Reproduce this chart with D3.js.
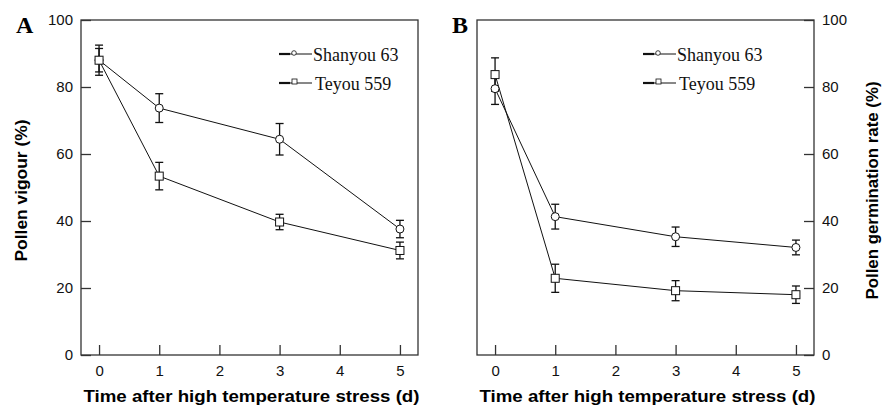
<!DOCTYPE html>
<html>
<head>
<meta charset="utf-8">
<script src="https://cdn.jsdelivr.net/npm/d3@7"></script>
<style>
  body { margin: 0; background: #fff; }
  svg { display: block; }
</style>
</head>
<body>
<script>
// values
const days = [0, 1, 3, 5];
const xTicks = [0, 1, 2, 3, 4, 5];
const yTicks = [0, 20, 40, 60, 80, 100];
const seriesNames = ["Shanyou 63", "Teyou 559"];

const vigourShanyou = [88, 73.7, 64.4, 37.6];
const vigourShanyouErr = [4.5, 4.3, 4.7, 2.6];
const vigourTeyou = [88, 53.4, 39.7, 31.2];
const vigourTeyouErr = [3.5, 4.1, 2.3, 2.5];

const germShanyou = [79.5, 41.3, 35.3, 32.1];
const germShanyouErr = [4.7, 3.7, 2.9, 2.2];
const germTeyou = [83.7, 22.9, 19.2, 18.0];
const germTeyouErr = [5.0, 4.2, 3.0, 2.6];

const width = 890;
const height = 406;
const axisColor = "#333";
const sans = "'Liberation Sans', Arial, sans-serif";
const serif = "'Liberation Serif', 'Times New Roman', serif";

const svg = d3.select("body")
  .append("svg")
  .attr("width", width)
  .attr("height", height);

function toPoints(vals, errs) {
  return days.map((d, i) => ({ x: d, y: vals[i], e: errs[i] }));
}

function drawPanel(opts) {
  const x = d3.scaleLinear().domain([-0.3, 5.3]).range([opts.left, opts.right]);
  const y = d3.scaleLinear().domain([0, 100]).range([355, 20]);
  const g = svg.append("g");

  // frame
  g.append("rect")
    .attr("x", opts.left).attr("y", y(100))
    .attr("width", opts.right - opts.left).attr("height", y(0) - y(100))
    .attr("fill", "none").attr("stroke", axisColor).attr("stroke-width", 1.3);

  // x axis, ticks pointing in
  const xAxis = g.append("g")
    .attr("transform", `translate(0,${y(0)})`)
    .call(d3.axisBottom(x).tickValues(xTicks).tickFormat(d3.format("d"))
      .tickSizeInner(-10).tickSizeOuter(0).tickPadding(10));
  xAxis.select(".domain").remove();
  xAxis.selectAll("line").attr("stroke", axisColor).attr("stroke-width", 1.3);
  xAxis.selectAll("text").attr("font-family", sans).attr("font-size", 15).attr("fill", "#111");

  // y axis on left (A) or right (B), ticks pointing in
  const axisFn = opts.yRight ? d3.axisRight(y) : d3.axisLeft(y);
  const yAxis = g.append("g")
    .attr("transform", `translate(${opts.yRight ? opts.right : opts.left},0)`)
    .call(axisFn.tickValues(yTicks).tickFormat(d3.format("d"))
      .tickSizeInner(-10).tickSizeOuter(0).tickPadding(8));
  yAxis.select(".domain").remove();
  yAxis.selectAll("line").attr("stroke", axisColor).attr("stroke-width", 1.3);
  yAxis.selectAll("text").attr("font-family", sans).attr("font-size", 15).attr("fill", "#111");

  // axis titles
  g.append("text")
    .attr("x", (opts.left + opts.right) / 2 + 2)
    .attr("y", 402)
    .attr("text-anchor", "middle")
    .attr("font-family", sans).attr("font-weight", "bold").attr("font-size", 17)
    .attr("textLength", 336).attr("lengthAdjust", "spacingAndGlyphs")
    .text("Time after high temperature stress (d)");

  g.append("text")
    .attr("transform", `translate(${opts.yTitleX},${(y(0) + y(100)) / 2 + 3}) rotate(-90)`)
    .attr("text-anchor", "middle")
    .attr("dominant-baseline", "central")
    .attr("font-family", sans).attr("font-weight", "bold").attr("font-size", 17)
    .attr("textLength", opts.yTitleLen).attr("lengthAdjust", "spacingAndGlyphs")
    .text(opts.yTitle);

  // panel letter
  g.append("text")
    .attr("x", opts.letterX).attr("y", 33)
    .attr("font-family", serif).attr("font-weight", "bold").attr("font-size", 24)
    .text(opts.letter);

  const line = d3.line().x(d => x(d.x)).y(d => y(d.y));

  opts.series.forEach(s => {
    // error bars
    const eb = g.append("g").attr("stroke", "#111").attr("stroke-width", 1.3);
    s.data.forEach(d => {
      eb.append("line").attr("x1", x(d.x)).attr("x2", x(d.x)).attr("y1", y(d.y + d.e)).attr("y2", y(d.y - d.e));
      eb.append("line").attr("x1", x(d.x) - 4).attr("x2", x(d.x) + 4).attr("y1", y(d.y + d.e)).attr("y2", y(d.y + d.e));
      eb.append("line").attr("x1", x(d.x) - 4).attr("x2", x(d.x) + 4).attr("y1", y(d.y - d.e)).attr("y2", y(d.y - d.e));
    });
  });

  opts.series.forEach(s => {
    g.append("path")
      .datum(s.data)
      .attr("d", line)
      .attr("fill", "none").attr("stroke", "#111").attr("stroke-width", 1);
  });

  opts.series.forEach(s => {
    const m = g.append("g");
    s.data.forEach(d => {
      if (s.shape === "circle") {
        m.append("circle").attr("cx", x(d.x)).attr("cy", y(d.y)).attr("r", 4)
          .attr("fill", "#fff").attr("stroke", "#111").attr("stroke-width", 1);
      } else {
        m.append("rect").attr("x", x(d.x) - 4).attr("y", y(d.y) - 4).attr("width", 8).attr("height", 8)
          .attr("fill", "#fff").attr("stroke", "#111").attr("stroke-width", 1);
      }
    });
  });

  // legend
  opts.series.forEach((s, i) => {
    const ly = 54 + i * 29;
    const lx = opts.legendX;
    const lg = g.append("g");
    lg.append("line").attr("x1", lx).attr("x2", lx + 11).attr("y1", ly).attr("y2", ly)
      .attr("stroke", "#111").attr("stroke-width", 2.2);
    lg.append("line").attr("x1", lx + 11).attr("x2", lx + 33).attr("y1", ly).attr("y2", ly)
      .attr("stroke", "#111").attr("stroke-width", 1);
    if (s.shape === "circle") {
      lg.append("circle").attr("cx", lx + 15).attr("cy", ly - 1).attr("r", 2.3)
        .attr("fill", "#fff").attr("stroke", "#111").attr("stroke-width", 0.8);
    } else {
      lg.append("rect").attr("x", lx + 13).attr("y", ly - 4).attr("width", 5).attr("height", 5)
        .attr("fill", "#fff").attr("stroke", "#111").attr("stroke-width", 0.8);
    }
    lg.append("text")
      .attr("x", lx + 34 + i * 2).attr("y", ly + 1)
      .attr("dominant-baseline", "central")
      .attr("font-family", serif).attr("font-size", 18).attr("fill", "#111")
      .text(s.name);
  });
}

drawPanel({
  left: 81, right: 418, yRight: false,
  yTitle: "Pollen vigour (%)", yTitleX: 21, yTitleLen: 142,
  letter: "A", letterX: 16, legendX: 279,
  series: [
    { name: seriesNames[0], shape: "circle", data: toPoints(vigourShanyou, vigourShanyouErr) },
    { name: seriesNames[1], shape: "square", data: toPoints(vigourTeyou, vigourTeyouErr) }
  ]
});

drawPanel({
  left: 477, right: 814, yRight: true,
  yTitle: "Pollen germination rate (%)", yTitleX: 872, yTitleLen: 218,
  letter: "B", letterX: 452, legendX: 643,
  series: [
    { name: seriesNames[0], shape: "circle", data: toPoints(germShanyou, germShanyouErr) },
    { name: seriesNames[1], shape: "square", data: toPoints(germTeyou, germTeyouErr) }
  ]
});
</script>
</body>
</html>
